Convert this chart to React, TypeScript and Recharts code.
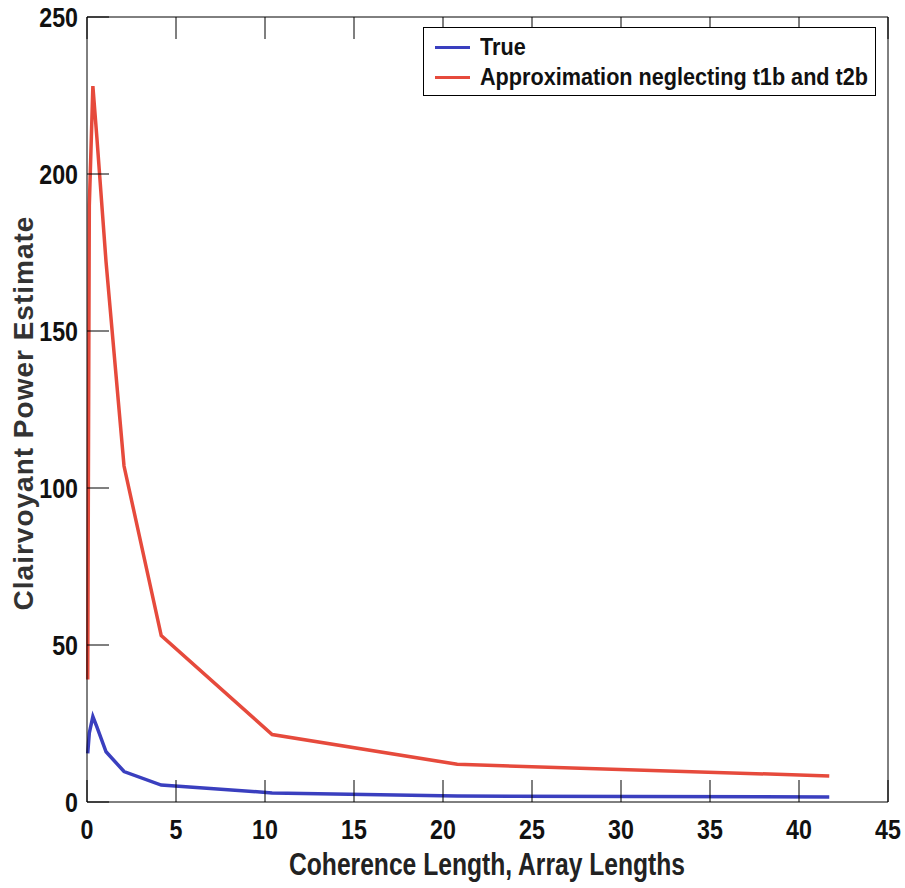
import { LineChart, Line, XAxis, YAxis, Legend } from "recharts";

// coherence length in array lengths
const coherence = [0.04, 0.13, 0.33, 0.55, 1.07, 2.08, 4.17, 10.4, 20.8, 41.7];
const trueVals = [15.5, 22, 27.2, 24, 16, 9.7, 5.4, 2.9, 1.9, 1.6];
const approxVals = [39, 190, 228, 212, 172, 107, 53, 21.5, 12, 8.3];

const xTicks = [0, 5, 10, 15, 20, 25, 30, 35, 40, 45];
const yTicks = [0, 50, 100, 150, 200, 250];

const data = coherence.map((x, i) => ({ x, trueV: trueVals[i], approx: approxVals[i] }));

const FONT = "'Liberation Sans', Arial, sans-serif";
const TICK_LEN = 22;

const BottomTick = (p: any) => (
  <g>
    <line x1={p.x} y1={p.y} x2={p.x} y2={p.y - TICK_LEN} stroke="#000" />
    <text
      transform={`translate(${p.x},${p.y + 37}) scale(0.83,1)`}
      textAnchor="middle"
      fontFamily={FONT}
      fontWeight="bold"
      fontSize={28}
      fill="#111"
    >
      {p.payload.value}
    </text>
  </g>
);

const TopTick = (p: any) => <line x1={p.x} y1={p.y} x2={p.x} y2={p.y + TICK_LEN} stroke="#000" />;

const LeftTick = (p: any) => (
  <g>
    <line x1={p.x} y1={p.y} x2={p.x + TICK_LEN} y2={p.y} stroke="#000" />
    <text
      transform={`translate(${p.x - 9},${p.y + 10}) scale(0.83,1)`}
      textAnchor="end"
      fontFamily={FONT}
      fontWeight="bold"
      fontSize={28}
      fill="#111"
    >
      {p.payload.value}
    </text>
  </g>
);

const RightTick = (p: any) => <line x1={p.x} y1={p.y} x2={p.x - TICK_LEN} y2={p.y} stroke="#000" />;

const legendItems = [
  { label: "True", color: "#3a3fbf" },
  { label: "Approximation neglecting t1b and t2b", color: "#e64a3c" },
];

const LegendBox = () => (
  <div
    style={{
      border: "1px solid #000",
      background: "#fff",
      padding: "4px 0 3px 11px",
      fontFamily: FONT,
      fontWeight: "bold",
      fontSize: 23,
      color: "#111",
      boxSizing: "border-box",
      width: 453,
      height: 69,
      whiteSpace: "nowrap",
      overflow: "hidden",
    }}
  >
    {legendItems.map((it) => (
      <div key={it.label} style={{ display: "flex", alignItems: "center", height: 30 }}>
        <span
          style={{ display: "inline-block", flexShrink: 0, width: 35, height: 3, background: it.color, marginRight: 10 }}
        />
        <span
          style={{ display: "inline-block", flexShrink: 0, transform: "scaleX(0.94)", transformOrigin: "left center" }}
        >
          {it.label}
        </span>
      </div>
    ))}
  </div>
);

export default function App() {
  return (
    <div style={{ position: "absolute", left: 0, top: 0, width: 905, height: 888, background: "#fff" }}>
      <LineChart width={905} height={888} data={data} margin={{ top: 16, right: 0, bottom: 0, left: 0 }}>
        <XAxis
          dataKey="x"
          type="number"
          domain={[0, 45]}
          ticks={xTicks}
          height={86}
          tickSize={0}
          tickMargin={0}
          tickLine={false}
          axisLine={{ stroke: "#000" }}
          tick={BottomTick}
          interval={0}
        />
        <XAxis
          xAxisId="top"
          orientation="top"
          dataKey="x"
          type="number"
          domain={[0, 45]}
          ticks={xTicks}
          height={1}
          tickSize={0}
          tickMargin={0}
          tickLine={false}
          axisLine={{ stroke: "#000" }}
          tick={TopTick}
          interval={0}
        />
        <YAxis
          type="number"
          domain={[0, 250]}
          ticks={yTicks}
          width={87}
          tickSize={0}
          tickMargin={0}
          tickLine={false}
          axisLine={{ stroke: "#000" }}
          tick={LeftTick}
          interval={0}
        />
        <YAxis
          yAxisId="right"
          orientation="right"
          type="number"
          domain={[0, 250]}
          ticks={yTicks}
          width={17}
          tickSize={0}
          tickMargin={0}
          tickLine={false}
          axisLine={{ stroke: "#000" }}
          tick={RightTick}
          interval={0}
        />
        <Legend
          layout="horizontal"
          verticalAlign="middle"
          align="center"
          wrapperStyle={{ top: 27, left: 423, width: 453, height: 69 }}
          content={LegendBox}
        />
        <Line dataKey="trueV" name="True" stroke="#3a3fbf" strokeWidth={3.5} dot={false} type="linear" isAnimationActive={false} />
        <Line dataKey="approx" name="Approximation neglecting t1b and t2b" stroke="#e64a3c" strokeWidth={3.5} dot={false} type="linear" isAnimationActive={false} />
      </LineChart>
      <svg width={905} height={888} style={{ position: "absolute", left: 0, top: 0, pointerEvents: "none" }}>
        <text
          transform="translate(487,875) scale(0.77,1)"
          textAnchor="middle"
          fontFamily={FONT}
          fontWeight="bold"
          fontSize={32}
          fill="#222"
        >
          Coherence Length, Array Lengths
        </text>
        <text
          transform="translate(33,413) rotate(-90)"
          textAnchor="middle"
          fontFamily={FONT}
          fontWeight="bold"
          fontSize={28}
          letterSpacing={1}
          fill="#333"
        >
          Clairvoyant Power Estimate
        </text>
      </svg>
    </div>
  );
}
